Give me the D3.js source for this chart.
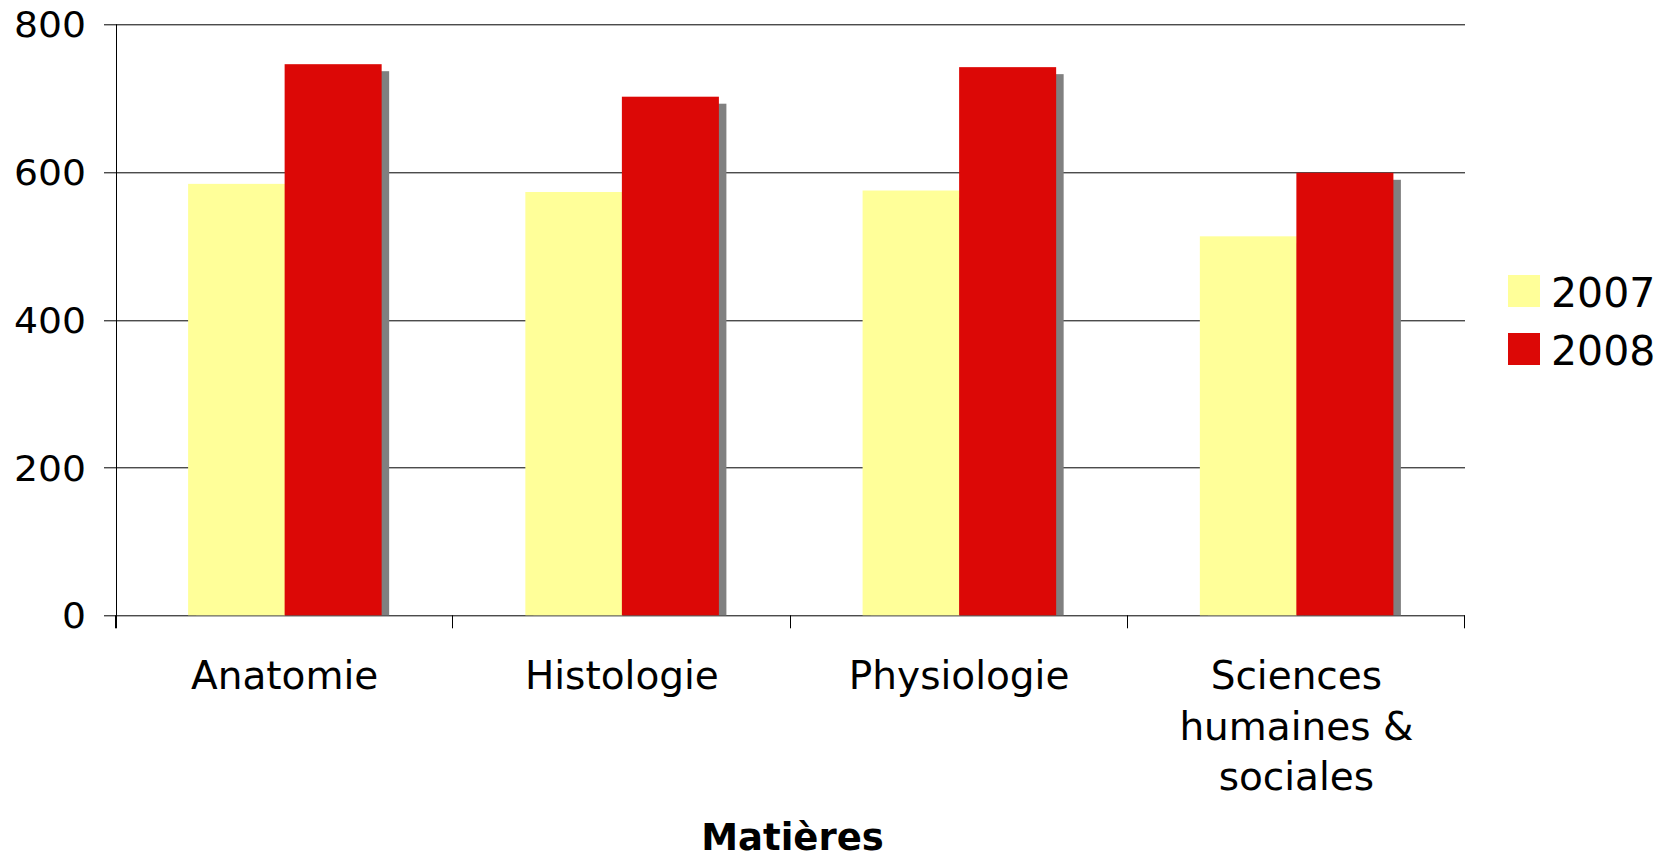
<!DOCTYPE html>
<html>
<head>
<meta charset="utf-8">
<script src="https://cdn.jsdelivr.net/npm/d3@7"></script>
<style>
  html, body { margin: 0; padding: 0; background: #ffffff; }
  svg { display: block; font-family: "DejaVu Sans", Verdana, sans-serif; }
</style>
</head>
<body>
<div id="chart"></div>
<script>
////////////////////////////////////////////////////////////
//////////////////////// Data //////////////////////////////
////////////////////////////////////////////////////////////

var categories = ["Anatomie", "Histologie", "Physiologie", "Sciences humaines & sociales"];
var series = ["2007", "2008"];
var values2007 = [584, 573, 575, 513];
var values2008 = [746, 702, 742, 599];
var yTicks = [0, 200, 400, 600, 800];
var xTitle = "Matières";

//Label lines for the wrapped category names
var categoryLines = [["Anatomie"], ["Histologie"], ["Physiologie"], ["Sciences", "humaines &", "sociales"]];

////////////////////////////////////////////////////////////
//////////////////////// Set-up ////////////////////////////
////////////////////////////////////////////////////////////

var width = 1663, height = 860;
var margin = { left: 116, top: 24.3, right: 198, bottom: 244.7 };
var plotW = width - margin.left - margin.right,
    plotH = height - margin.top - margin.bottom;

var colors = { "2007": "#ffff99", "2008": "#dc0806" };

var svg = d3.select("#chart").append("svg")
    .attr("width", width)
    .attr("height", height);

var g = svg.append("g")
    .attr("transform", "translate(" + margin.left + "," + margin.top + ")");

var x0 = d3.scaleBand()
    .domain(categories)
    .range([0, plotW])
    .padding(0);

var x1 = d3.scaleBand()
    .domain(series)
    .range([0, x0.bandwidth()])
    .paddingInner(0)
    .paddingOuter(0.747);

var y = d3.scaleLinear()
    .domain([0, 800])
    .range([plotH, 0]);

var rows = categories.map(function (c, i) {
    return { cat: c, lines: categoryLines[i], vals: [
        { key: "2007", value: values2007[i] },
        { key: "2008", value: values2008[i] }
    ] };
});

////////////////////////////////////////////////////////////
//////////////////////// Grid //////////////////////////////
////////////////////////////////////////////////////////////

g.selectAll(".grid")
    .data(yTicks)
    .enter().append("line")
    .attr("class", "grid")
    .attr("x1", -12).attr("x2", plotW)
    .attr("y1", function (d) { return Math.round(y(d)) + 0.5; })
    .attr("y2", function (d) { return Math.round(y(d)) + 0.5; })
    .attr("stroke", "#000")
    .attr("stroke-width", 1);

////////////////////////////////////////////////////////////
//////////////////////// Bars //////////////////////////////
////////////////////////////////////////////////////////////

var groups = g.selectAll(".group")
    .data(rows)
    .enter().append("g")
    .attr("class", "group")
    .attr("transform", function (d) { return "translate(" + x0(d.cat) + ",0)"; });

//grey drop shadow, offset to the lower right
groups.selectAll(".shadow")
    .data(function (d) { return d.vals; })
    .enter().append("rect")
    .attr("class", "shadow")
    .attr("x", function (d) { return x1(d.key) + 8; })
    .attr("y", function (d) { return y(d.value) + 7; })
    .attr("width", x1.bandwidth())
    .attr("height", function (d) { return plotH - y(d.value) - 7; })
    .attr("fill", "#808080");

groups.selectAll(".bar")
    .data(function (d) { return d.vals; })
    .enter().append("rect")
    .attr("class", "bar")
    .attr("x", function (d) { return x1(d.key); })
    .attr("y", function (d) { return y(d.value); })
    .attr("width", x1.bandwidth() + 0.5)
    .attr("height", function (d) { return plotH - y(d.value); })
    .attr("fill", function (d) { return colors[d.key]; });

////////////////////////////////////////////////////////////
//////////////////////// Axes //////////////////////////////
////////////////////////////////////////////////////////////

//vertical axis line
g.append("line")
    .attr("x1", 0.5).attr("x2", 0.5)
    .attr("y1", 0).attr("y2", plotH + 13)
    .attr("stroke", "#000");

//category ticks at band edges
var edges = categories.map(function (c) { return x0(c); }).concat([plotW]);
g.selectAll(".xtick")
    .data(edges)
    .enter().append("line")
    .attr("x1", function (d) { return Math.round(d) - 0.5; })
    .attr("x2", function (d) { return Math.round(d) - 0.5; })
    .attr("y1", plotH).attr("y2", plotH + 13)
    .attr("stroke", "#000");

//y labels (the original font is drawn a bit wide)
g.selectAll(".ylabel")
    .data(yTicks)
    .enter().append("text")
    .attr("class", "ylabel")
    .attr("x", -30)
    .attr("y", function (d) { return y(d) + 13; })
    .attr("text-anchor", "end")
    .attr("font-size", 35)
    .attr("textLength", function (d) { return String(d).length * 24; })
    .attr("lengthAdjust", "spacingAndGlyphs")
    .attr("fill", "#000")
    .text(function (d) { return d; });

//category labels
var catLabels = g.selectAll(".xlabel")
    .data(rows)
    .enter().append("text")
    .attr("class", "xlabel")
    .attr("text-anchor", "middle")
    .attr("font-size", 39)
    .attr("fill", "#000")
    .attr("transform", function (d) {
        return "translate(" + (x0(d.cat) + x0.bandwidth() / 2) + "," + (689 - margin.top) + ")";
    });

catLabels.selectAll("tspan")
    .data(function (d) { return d.lines; })
    .enter().append("tspan")
    .attr("x", 0)
    .attr("y", function (d, i) { return i * 50.5; })
    .text(function (d) { return d; });

//axis title
g.append("text")
    .attr("x", plotW / 2 + 2)
    .attr("y", 850 - margin.top)
    .attr("text-anchor", "middle")
    .attr("font-size", 37)
    .attr("font-weight", "bold")
    .attr("fill", "#000")
    .text(xTitle);

////////////////////////////////////////////////////////////
//////////////////////// Legend ////////////////////////////
////////////////////////////////////////////////////////////

var legend = svg.append("g")
    .attr("transform", "translate(1508,275)");

var items = legend.selectAll(".legendItem")
    .data(series)
    .enter().append("g")
    .attr("class", "legendItem")
    .attr("transform", function (d, i) { return "translate(0," + (i * 58) + ")"; });

items.append("rect")
    .attr("width", 32).attr("height", 32)
    .attr("fill", function (d) { return colors[d]; });

items.append("text")
    .attr("x", 43)
    .attr("y", 32)
    .attr("font-size", 41)
    .attr("fill", "#000")
    .text(function (d) { return d; });
</script>
</body>
</html>
